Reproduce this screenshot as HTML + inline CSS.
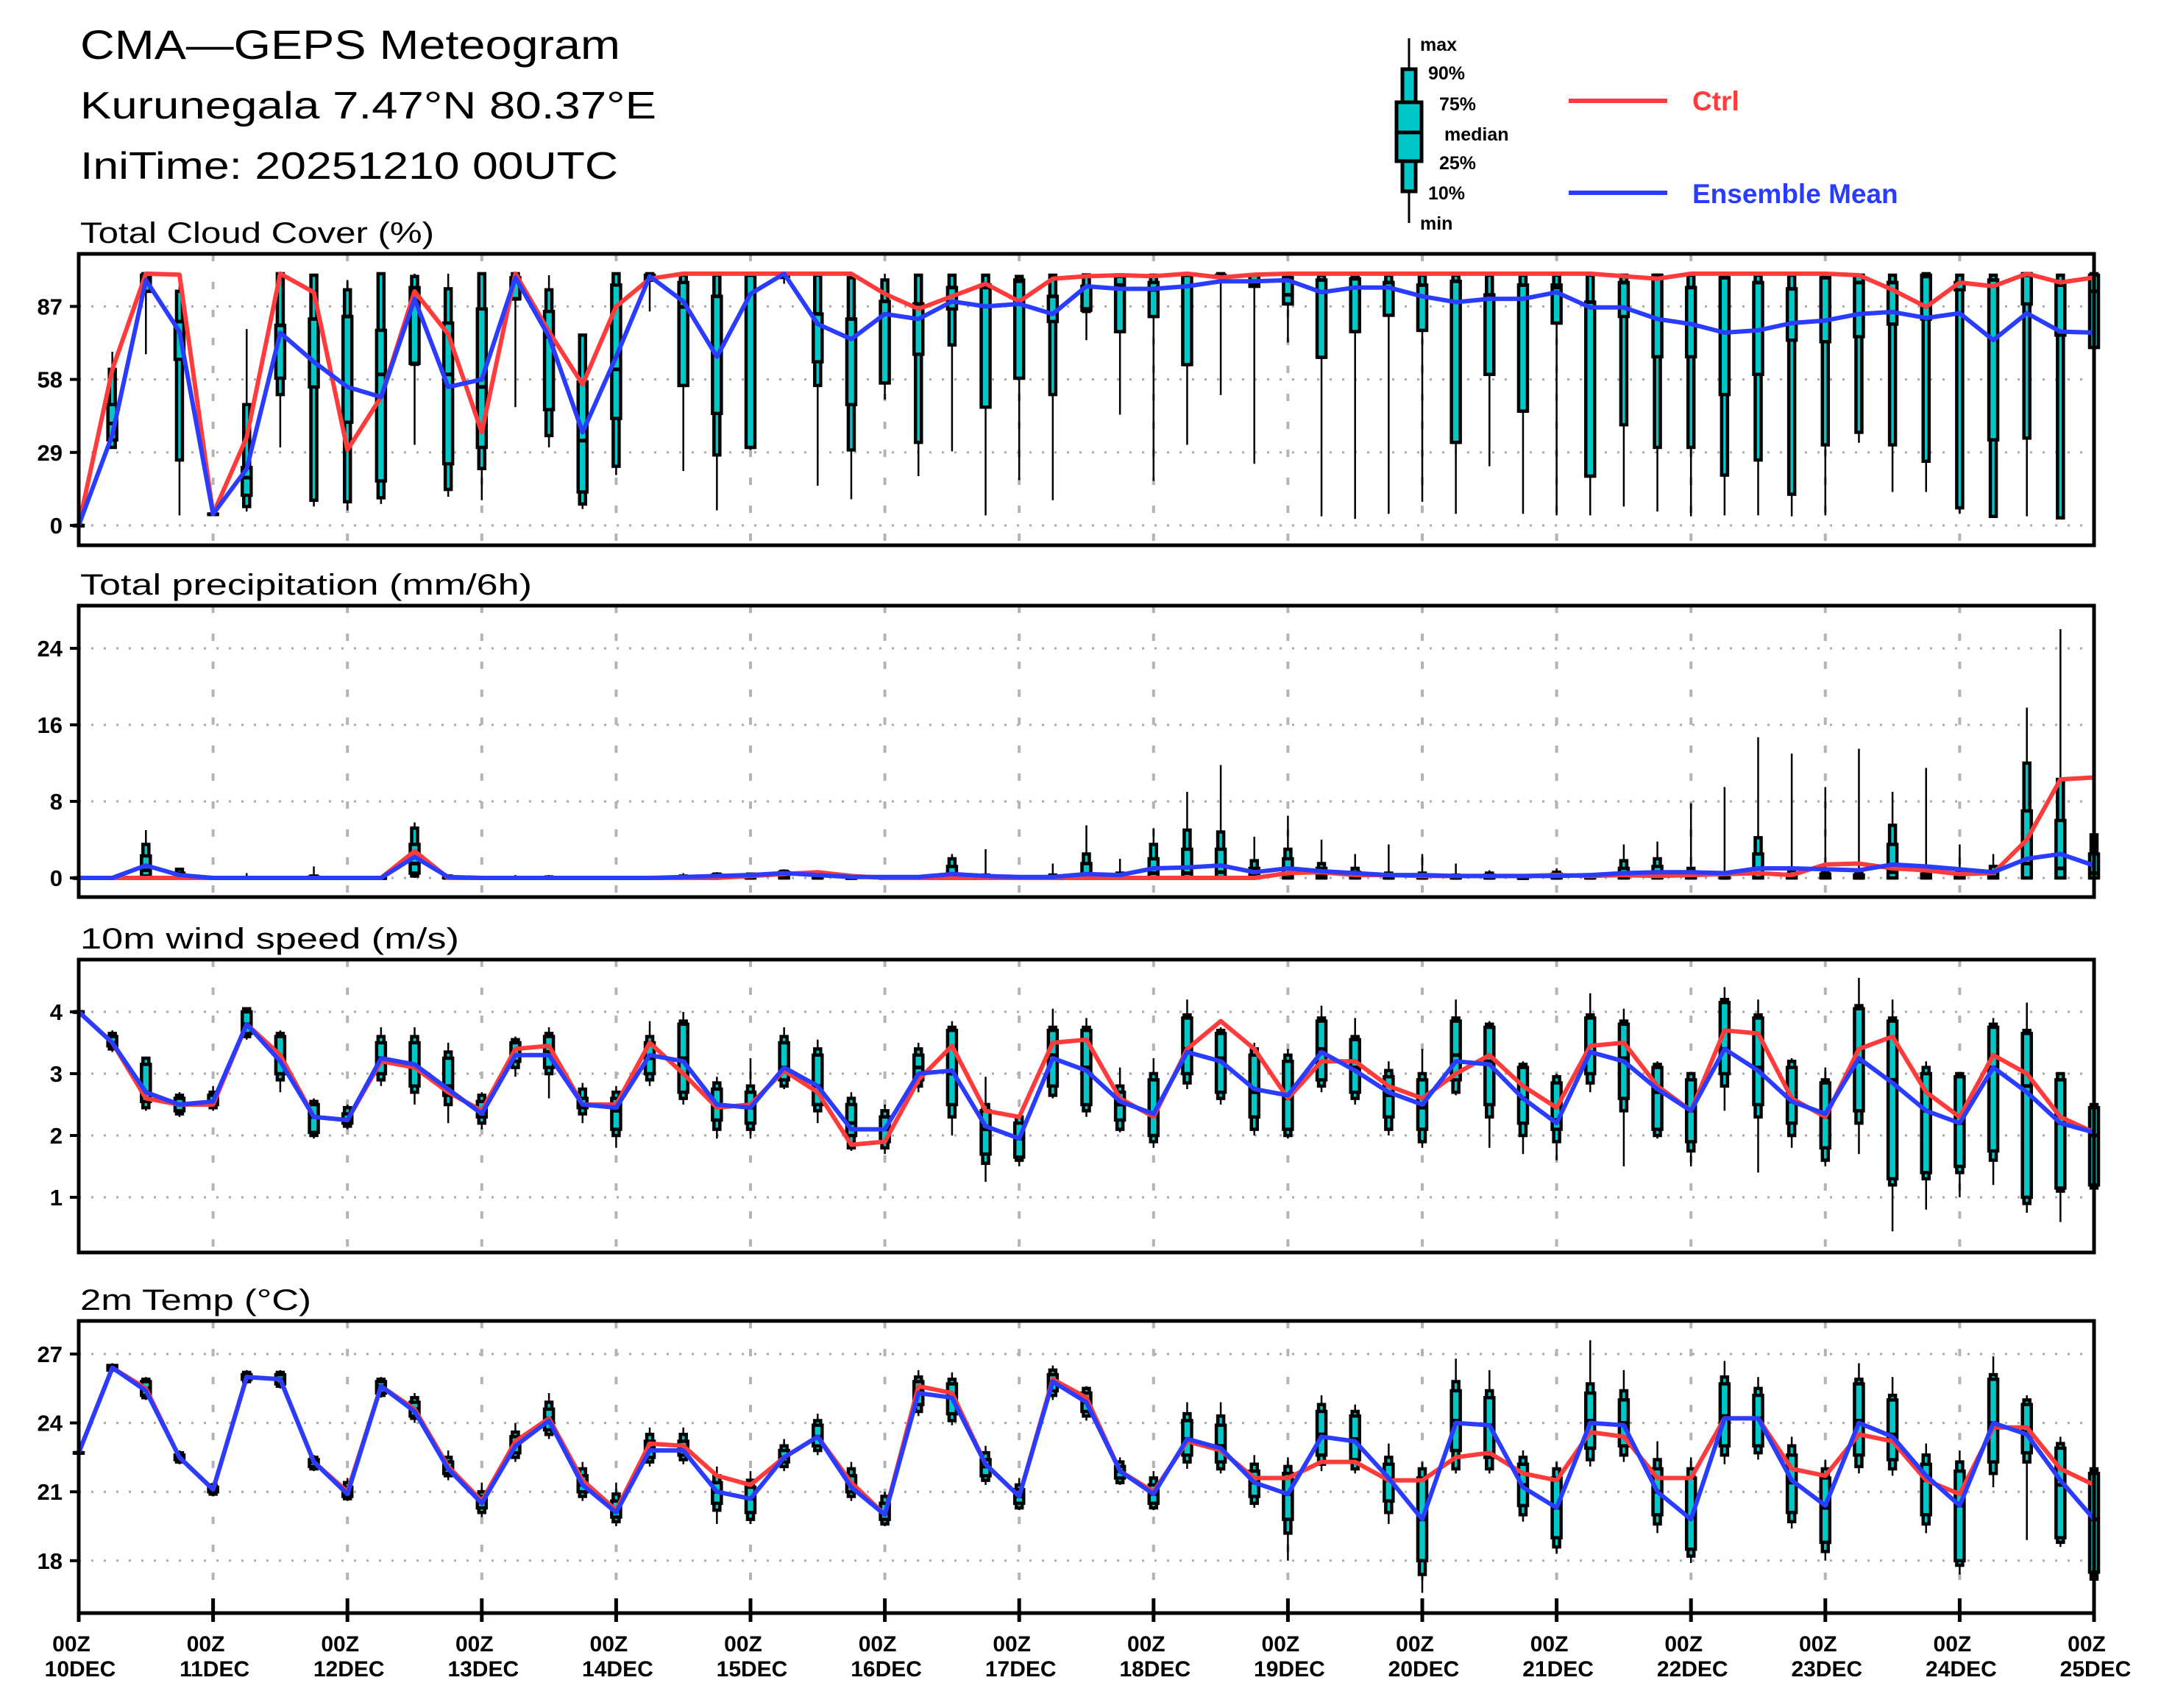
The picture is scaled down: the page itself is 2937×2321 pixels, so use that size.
<!DOCTYPE html>
<html><head><meta charset="utf-8"><style>
html,body{margin:0;padding:0;background:#fff;}
svg{display:block;}
text{font-family:"Liberation Sans",sans-serif;}
</style></head><body>
<svg id="chart" xmlns="http://www.w3.org/2000/svg" width="2937" height="2321" viewBox="0 0 2937 2321">
<rect x="0" y="0" width="2937" height="2321" fill="#fff"/>
<text x="109" y="80" font-size="56" textLength="734" lengthAdjust="spacingAndGlyphs">CMA—GEPS Meteogram</text>
<text x="109" y="161" font-size="52" textLength="783" lengthAdjust="spacingAndGlyphs">Kurunegala 7.47°N 80.37°E</text>
<text x="109" y="243" font-size="52" textLength="731" lengthAdjust="spacingAndGlyphs">IniTime: 20251210 00UTC</text>
<g id="legend">
<line x1="1915" y1="52" x2="1915" y2="303" stroke="#000" stroke-width="3"/>
<rect x="1906" y="94" width="18" height="166" fill="#00c8c8" stroke="#000" stroke-width="5"/>
<rect x="1898" y="139" width="34" height="80" fill="#00c8c8" stroke="#000" stroke-width="5"/>
<line x1="1898" y1="180" x2="1932" y2="180" stroke="#000" stroke-width="5"/>
<g font-size="25" font-weight="bold">
<text x="1930" y="69">max</text>
<text x="1941" y="108">90%</text>
<text x="1956" y="150">75%</text>
<text x="1963" y="191">median</text>
<text x="1956" y="230">25%</text>
<text x="1941" y="271">10%</text>
<text x="1930" y="312">min</text>
</g>
<line x1="2132" y1="137" x2="2266" y2="137" stroke="#ff3b3b" stroke-width="6"/>
<text x="2300" y="150" font-size="37" font-weight="bold" fill="#ff3b3b">Ctrl</text>
<line x1="2132" y1="262" x2="2266" y2="262" stroke="#2a3cff" stroke-width="6"/>
<text x="2300" y="276" font-size="37" font-weight="bold" fill="#2a3cff">Ensemble Mean</text>
</g>
</svg>
<script>
// ---------- data ----------
const dayLabels=["10DEC","11DEC","12DEC","13DEC","14DEC","15DEC","16DEC","17DEC","18DEC","19DEC","20DEC","21DEC","22DEC","23DEC","24DEC","25DEC"];
const cloudTicks=[0,29,58,87];
const precipTicks=[0,8,16,24];
const windTicks=[1,2,3,4];
const tempTicks=[18,21,24,27];

const cloudCtrl=[0,62,100,99.6,4.5,35,100,92.6,30,51,93,76,37,100,77,56,87,98,100,100,100,100,100,100,92,86,91,96,89,98,99,99.4,99,100,98.5,99.6,100,100,100,100,100,100,100,100,100,100,99,98,100,100,100,100,100,99.4,93.6,86.8,96.5,95,100,96.5,98.5];
const cloudMean=[0,36,97.5,77,4.5,22.5,76.5,65,55,51,90,55,58,98.5,75,37,67,99,89,67,92,100,80,74,84,82,89,87,88,84,95,94,94,95,97,97,97.4,92.6,94.5,94.5,91,88.7,90,90,92.6,86.6,86.6,82,80,76.6,77.5,80.4,81.4,84,84.8,82.4,84.3,73.6,84.3,77,76.6];
const cloudMax=[0,69,100,95.5,4.5,78,100,98,97.5,100,100,100,100,100,99.4,76,100,100,100,100,100,100,100,100,100,100,100,99.7,99.4,99.7,100,100,100,100,100,100,100,100,100,100,100,100,100,100,100,100,100,100,100,100,100,100,100,100,100,100,100,100,100,100,100];
const cloudP90=[0,62,100,93,4.5,48,100,99.4,93.6,100,98.9,94,100,100,93.6,75.6,100,100,99.5,99.5,100,100,99.4,98.4,97.5,99.4,99.4,99.4,98.9,99.4,99.5,99.5,99.4,100,100,99.5,99.4,99.4,99.4,99.4,99.4,99.4,99.4,99.4,99.4,99.4,99.4,99.4,99.4,99.4,99.4,99.4,99.4,99.4,99.4,100,99.4,99.4,100,99.4,100];
const cloudP75=[0,48,99.4,81,4.5,23,79.5,82,83,77.5,94.5,80.4,86,98.4,85,57,95.5,99.4,96.5,91,100,100,84,82,89,88,94.5,95.5,97.5,91,95,98.9,96.5,99.4,99.4,99.4,98.4,97.5,98,96.5,95.5,97,91.6,95.5,95.5,88.7,96.5,99.4,94.5,98.4,96.5,94,98.4,99.4,96.5,99.4,96.5,97.5,100,96,99.4];
const cloudMed=[0,40.5,98,81,4.5,19,79.5,82,83,60,93.6,60,55,90,75,33.7,62,97.5,86.8,91,99.4,100,84,82,89,88,94.5,94.5,97,91,86,95.5,93.6,99.4,99.4,95.5,91.6,97.5,98,96.5,95.5,97,91.6,95.5,94.5,88.7,96.5,98.4,94.5,98.4,96.5,94,98.4,96.5,96.5,98.9,96.5,97.5,99.4,95.5,93];
const cloudP25=[0,34,93,66,4.5,12,58.5,55,41,17.7,64.4,24.5,31,90,46,13.3,42.5,97.5,55.6,44.5,31,99,65,48,56.6,68,86,47,58.5,81,85.5,77,83,63.9,99,95,88,66.8,77,83.5,77.5,33,60,45.4,80.4,19.6,83,67,67,52,60,73.6,73,75,80,82,93.6,34,88,75.6,70.7];
const cloudP10=[0,31,93,26,4.5,7.5,52,10,9.4,11,64,14.3,22.6,90,35.7,8.5,23.5,97.5,55.6,28,31,98.5,55.6,30,56.6,33,71.7,47,58.5,52,85,77,83,63.9,99,95,88,66.8,77,83.5,77.5,33,60,45.4,80.4,19.6,40,31,31,20,26,12.4,32,37,32,25.5,7,3.6,34.7,3,70.7];
const cloudMin=[0,31,68,4,4.5,5.5,31,7.5,6,8.5,32,11.4,10,47,31,6.5,20,85,21.6,6,30,96,15.8,10.4,50,19.6,29.4,4,18,10,73.6,44,17.7,32,51.8,24.5,72.7,3.6,2.6,4.6,9.4,4.6,23.5,4.6,4,4,7.5,5.5,3.6,4,4,3.6,4,32.8,13.3,13.3,4.6,3.6,3.6,3,3.6];

const precipCtrl=[0,0,0,0,0,0,0,0,0,0,2.8,0,0,0,0,0,0,0,0,0,0.2,0.4,0.6,0.2,0,0,0,0,0,0,0,0,0,0,0,0,0.5,0.6,0.3,0.3,0.2,0.2,0.2,0.2,0.3,0.2,0.3,0.2,0.3,0.4,0.5,0.3,1.4,1.5,1.0,0.8,0.4,0.5,4.0,10.3,10.5];
const precipMean=[0,0,1.3,0.3,0,0,0,0,0,0,2.2,0.1,0,0,0,0,0,0,0.1,0.2,0.3,0.5,0.3,0.1,0.1,0.1,0.4,0.2,0.1,0.1,0.4,0.3,1.0,1.1,1.3,0.6,1.0,0.7,0.5,0.3,0.3,0.2,0.2,0.2,0.2,0.3,0.5,0.6,0.6,0.5,1.0,1.0,0.9,0.8,1.4,1.2,0.9,0.6,2.0,2.5,1.3];
const precipMax=[0,0,5.0,1.0,0,0.5,0,1.2,0,0,5.8,0.3,0,0.3,0.3,0.1,0,0.2,0.5,0.6,0.5,0.9,0.4,0.2,0.1,0.2,2.5,3.0,0.2,1.5,5.5,2.0,5.2,9.0,11.8,4.3,6.5,4.0,2.5,3.5,2.5,1.5,0.8,0.3,1.0,0.5,3.5,3.8,7.8,9.5,14.7,13.0,9.5,13.5,9.0,11.5,3.5,2.5,17.8,26.0,4.7];
const precipP90=[0,0,3.5,0.9,0,0,0,0.2,0,0,5.2,0.2,0,0,0.1,0,0,0,0.2,0.4,0.4,0.7,0.2,0,0,0,2.0,0.3,0,0.3,2.5,0.5,3.5,5.0,4.8,1.8,3.0,1.5,1.0,0.5,0.5,0.3,0.5,0,0.6,0.2,1.8,2.0,1.0,0.5,4.2,0.8,0.7,0.5,5.5,0.8,0.7,1.2,12.0,10.3,4.5];
const precipP75=[0,0,2.3,0.5,0,0,0,0.1,0,0,3.5,0.1,0,0,0,0,0,0,0,0.3,0.3,0.6,0.1,0,0,0,1.2,0.1,0,0,1.5,0.3,2.0,3.0,3.0,1.0,2.0,1.0,0.6,0.3,0.3,0.2,0.3,0,0.4,0.1,1.0,1.2,0.5,0.2,2.5,0.4,0.4,0.3,3.5,0.4,0.4,0.6,7.0,6.0,2.5];
const precipMed=[0,0,0.8,0.1,0,0,0,0,0,0,1.5,0,0,0,0,0,0,0,0,0,0,0.2,0,0,0,0,0.3,0,0,0,0.3,0,0.5,0.5,0.6,0.2,0.4,0.2,0.1,0,0,0,0,0,0,0,0.2,0.3,0.1,0,0.5,0.1,0.1,0,0.6,0.1,0.1,0.1,1.5,1.0,0.5];
const precipP25=[0,0,0.2,0,0,0,0,0,0,0,0.5,0,0,0,0,0,0,0,0,0,0,0,0,0,0,0,0,0,0,0,0,0,0,0,0,0,0,0,0,0,0,0,0,0,0,0,0,0,0,0,0,0,0,0,0,0,0,0,0,0,0];
const precipP10=[0,0,0,0,0,0,0,0,0,0,0.2,0,0,0,0,0,0,0,0,0,0,0,0,0,0,0,0,0,0,0,0,0,0,0,0,0,0,0,0,0,0,0,0,0,0,0,0,0,0,0,0,0,0,0,0,0,0,0,0,0,0];
const precipMin=[0,0,0,0,0,0,0,0,0,0,0,0,0,0,0,0,0,0,0,0,0,0,0,0,0,0,0,0,0,0,0,0,0,0,0,0,0,0,0,0,0,0,0,0,0,0,0,0,0,0,0,0,0,0,0,0,0,0,0,0,0];

const windCtrl=[4.0,3.5,2.6,2.5,2.5,3.8,3.3,2.3,2.25,3.2,3.1,2.7,2.4,3.4,3.45,2.5,2.5,3.5,3.0,2.45,2.5,3.05,2.7,1.85,1.9,2.9,3.45,2.4,2.3,3.5,3.55,2.6,2.3,3.4,3.85,3.4,2.6,3.2,3.2,2.8,2.6,3.0,3.3,2.8,2.45,3.45,3.5,2.8,2.4,3.7,3.65,2.6,2.3,3.4,3.6,2.7,2.3,3.3,3.0,2.3,2.05];
const windMean=[4.0,3.5,2.7,2.5,2.55,3.8,3.2,2.3,2.25,3.25,3.15,2.75,2.35,3.3,3.3,2.5,2.45,3.3,3.2,2.5,2.45,3.1,2.8,2.1,2.1,3.0,3.05,2.15,1.95,3.25,3.05,2.55,2.35,3.35,3.2,2.75,2.65,3.35,3.05,2.7,2.5,3.2,3.15,2.6,2.2,3.35,3.2,2.75,2.4,3.4,3.05,2.55,2.35,3.25,2.85,2.4,2.2,3.1,2.7,2.2,2.05];
const windMax=[4.0,3.7,3.25,2.7,2.8,4.05,3.7,2.6,2.5,3.75,3.75,3.5,2.7,3.6,3.75,2.85,2.8,3.85,4.0,2.95,3.25,3.75,3.55,2.7,2.5,3.5,3.85,2.95,2.35,4.05,3.9,3.1,3.25,4.2,3.75,3.5,3.4,4.1,3.9,3.2,3.4,4.2,3.85,3.2,3.0,4.3,4.05,3.2,3.0,4.4,4.2,3.25,3.1,4.55,4.2,3.2,3.0,3.9,4.15,3.0,2.5];
const windP90=[4.0,3.65,3.25,2.65,2.7,4.05,3.65,2.55,2.45,3.6,3.6,3.35,2.65,3.55,3.65,2.75,2.7,3.6,3.85,2.85,2.8,3.6,3.4,2.6,2.4,3.4,3.75,2.5,2.3,3.75,3.75,2.8,3.0,3.95,3.7,3.4,3.3,3.9,3.6,3.05,3.0,3.9,3.8,3.15,2.95,3.95,3.85,3.15,3.0,4.2,3.95,3.2,2.9,4.1,3.9,3.1,3.0,3.8,3.7,3.0,2.5];
const windP75=[4.0,3.6,3.15,2.6,2.65,4.0,3.6,2.5,2.35,3.5,3.5,3.25,2.55,3.5,3.6,2.6,2.6,3.5,3.8,2.75,2.7,3.5,3.3,2.5,2.3,3.3,3.7,2.4,2.2,3.7,3.7,2.7,2.9,3.9,3.65,3.3,3.2,3.85,3.55,2.95,2.9,3.85,3.75,3.1,2.85,3.9,3.8,3.1,2.9,4.15,3.9,3.1,2.85,4.05,3.85,3.0,2.95,3.75,3.65,2.9,2.45];
const windMed=[4.0,3.5,2.7,2.5,2.55,3.8,3.25,2.3,2.25,3.25,3.1,2.8,2.4,3.3,3.35,2.5,2.4,3.25,3.25,2.5,2.45,3.1,2.8,2.2,2.1,3.1,3.0,2.1,1.95,3.3,3.1,2.5,2.35,3.4,3.25,2.7,2.6,3.4,3.1,2.65,2.45,3.3,3.2,2.6,2.25,3.35,3.25,2.7,2.4,3.4,3.1,2.55,2.3,3.2,2.9,2.4,2.2,3.1,2.8,2.2,2.0];
const windP25=[4.0,3.45,2.55,2.4,2.5,3.65,3.0,2.05,2.2,3.0,2.8,2.65,2.3,3.2,3.1,2.45,2.1,3.0,2.7,2.25,2.2,2.9,2.5,2.0,1.9,2.9,2.5,1.7,1.65,2.8,2.5,2.25,2.0,3.0,2.7,2.3,2.1,2.9,2.7,2.3,2.1,2.9,2.5,2.2,2.1,3.0,2.6,2.1,1.9,3.0,2.5,2.2,1.8,2.4,1.3,1.4,1.5,1.75,1.0,1.15,1.2];
const windP10=[4.0,3.4,2.45,2.35,2.45,3.6,2.9,2.0,2.15,2.9,2.7,2.5,2.2,3.1,3.0,2.35,2.0,2.9,2.6,2.1,2.1,2.8,2.4,1.8,1.8,2.8,2.3,1.55,1.6,2.65,2.4,2.1,1.9,2.85,2.6,2.1,2.0,2.8,2.6,2.1,1.9,2.7,2.3,2.0,1.9,2.85,2.4,2.0,1.75,2.8,2.3,2.0,1.6,2.2,1.2,1.3,1.4,1.6,0.9,1.1,1.15];
const windMin=[4.0,3.35,2.4,2.3,2.4,3.55,2.7,1.95,2.1,2.8,2.5,2.2,2.1,2.95,2.6,2.2,1.8,2.8,2.5,1.95,1.95,2.75,2.2,1.75,1.7,2.7,2.0,1.25,1.5,2.6,2.3,2.05,1.8,2.75,2.5,2.0,1.95,2.7,2.5,2.0,1.8,2.65,1.8,1.7,1.6,2.7,1.5,1.95,1.5,2.4,1.4,1.8,1.5,1.7,0.45,0.8,1.0,1.2,0.75,0.6,1.15];

const tempCtrl=[22.7,26.4,25.5,22.5,21.1,26.0,25.9,22.3,21.0,25.6,24.6,22.1,20.6,23.2,24.2,21.5,20.2,23.1,23.0,21.7,21.3,22.5,23.4,21.4,20.0,25.6,25.3,22.2,20.8,25.9,25.1,21.9,21.0,23.2,22.8,21.6,21.6,22.3,22.3,21.5,21.5,22.5,22.7,21.8,21.5,23.6,23.4,21.6,21.6,24.2,24.2,22.0,21.7,23.5,23.2,21.5,20.9,23.8,23.8,22.0,21.3];
const tempMean=[22.7,26.4,25.4,22.5,21.1,26.0,25.9,22.3,20.9,25.6,24.5,22.0,20.5,23.0,24.1,21.3,20.1,22.8,22.8,21.0,20.7,22.5,23.4,21.2,20.0,25.3,25.1,22.2,20.8,25.8,24.9,21.9,20.9,23.3,22.9,21.4,20.9,23.4,23.2,21.6,19.8,24.0,23.9,21.2,20.3,24.0,23.9,21.0,19.8,24.2,24.2,21.5,20.4,24.0,23.4,21.7,20.4,24.0,23.5,21.5,19.8];
const tempMax=[22.7,26.6,26.0,22.8,21.4,26.3,26.3,22.6,21.6,26.0,25.3,22.8,21.4,24.0,25.3,22.3,21.4,23.8,23.8,22.1,21.9,23.3,24.4,22.3,21.0,26.3,26.2,23.0,21.6,26.5,25.6,22.5,21.9,24.9,24.9,22.6,22.5,25.2,24.8,23.1,22.3,26.8,26.3,22.8,22.3,27.6,26.3,23.2,22.5,26.7,26.0,23.4,22.4,26.6,26.0,23.1,22.8,26.9,25.2,23.4,22.2];
const tempP90=[22.7,26.5,25.9,22.7,21.3,26.2,26.2,22.5,21.4,25.9,25.1,22.5,21.0,23.6,24.9,22.0,20.9,23.5,23.5,21.7,21.5,23.0,24.1,22.0,20.8,26.0,25.9,22.7,21.3,26.3,25.5,22.3,21.6,24.4,24.3,22.2,22.1,24.8,24.5,22.5,22.0,25.8,25.4,22.5,22.0,25.7,25.4,22.4,22.0,26.0,25.5,23.0,22.0,25.9,25.2,22.6,22.3,26.1,25.0,23.1,22.0];
const tempP75=[22.7,26.5,25.8,22.6,21.2,26.1,26.1,22.4,21.2,25.8,24.9,22.3,20.8,23.4,24.6,21.7,20.6,23.2,23.2,21.4,21.2,22.8,23.9,21.7,20.5,25.8,25.7,22.4,21.1,26.1,25.3,22.1,21.3,24.1,23.9,21.9,21.8,24.5,24.3,22.2,21.6,25.4,25.1,22.2,21.6,25.3,25.0,22.0,21.6,25.7,25.2,22.6,21.6,25.7,25.0,22.2,21.9,25.9,24.8,22.9,21.8];
const tempMed=[22.7,26.4,25.5,22.5,21.1,26.0,25.9,22.3,21.0,25.6,24.6,22.0,20.6,23.1,24.2,21.3,20.2,22.9,22.9,21.0,20.7,22.5,23.4,21.3,20.1,25.4,25.1,22.1,20.8,25.8,24.9,21.9,20.9,23.3,23.0,21.4,20.9,23.5,23.3,21.5,19.8,24.1,23.9,21.3,20.3,24.1,24.0,21.0,19.9,24.3,24.2,21.4,20.3,24.1,23.5,21.5,20.4,24.0,23.6,21.3,19.8];
const tempP25=[22.7,26.3,25.2,22.4,21.0,25.9,25.7,22.1,20.8,25.3,24.3,21.8,20.3,22.7,23.7,21.0,19.9,22.5,22.6,20.5,20.1,22.3,23.0,21.0,19.8,24.8,24.4,21.7,20.5,25.4,24.5,21.6,20.5,22.6,22.3,20.8,19.8,22.6,22.4,20.6,18.0,22.8,22.5,20.4,19.0,22.9,23.0,20.0,18.5,23.0,23.0,20.1,18.8,22.6,22.4,20.0,18.0,22.3,22.7,19.0,17.5];
const tempP10=[22.7,26.3,25.1,22.3,20.9,25.8,25.6,22.0,20.7,25.2,24.2,21.7,20.1,22.5,23.5,20.8,19.7,22.3,22.4,20.2,19.8,22.1,22.8,20.8,19.6,24.5,24.1,21.5,20.3,25.2,24.3,21.4,20.3,22.3,22.0,20.5,19.2,22.2,22.0,20.1,17.4,22.0,22.0,20.0,18.6,22.4,22.6,19.6,18.2,22.6,22.7,19.7,18.4,22.1,22.0,19.6,17.8,21.8,22.3,18.8,17.2];
const tempMin=[22.7,26.2,25.0,22.2,20.8,25.7,25.5,21.9,20.6,25.1,24.0,21.5,19.9,22.3,23.3,20.6,19.5,22.1,22.2,19.6,19.6,21.9,22.6,20.6,19.5,24.3,23.9,21.3,20.2,25.0,24.1,21.3,20.2,22.0,21.8,20.3,18.0,21.9,21.8,19.6,16.6,21.8,21.8,19.7,18.3,22.1,22.3,19.2,17.9,22.2,22.4,19.4,18.0,21.8,21.7,19.2,17.4,21.2,18.9,18.6,17.0];

// ---------- layout ----------
const NS="http://www.w3.org/2000/svg";
const svg=document.getElementById('chart');
const X0=107, X1=2846, NSTEP=60;
function xAt(i){return X0+(X1-X0)*i/NSTEP;}
function mk(tag,attrs,parent){const e=document.createElementNS(NS,tag);for(const k in attrs)e.setAttribute(k,attrs[k]);(parent||svg).appendChild(e);return e;}

const panels=[
 {key:'cloud',title:'Total Cloud Cover (%)',tw:481,top:345,bot:741,v0:0,y0:714,ppu:99.2/29,ticks:cloudTicks,ctrl:cloudCtrl,mean:cloudMean,mn:cloudMin,p10:cloudP10,p25:cloudP25,med:cloudMed,p75:cloudP75,p90:cloudP90,mx:cloudMax},
 {key:'precip',title:'Total precipitation (mm/6h)',tw:614,top:823,bot:1219,v0:0,y0:1193,ppu:13.0,ticks:precipTicks,ctrl:precipCtrl,mean:precipMean,mn:precipMin,p10:precipP10,p25:precipP25,med:precipMed,p75:precipP75,p90:precipP90,mx:precipMax},
 {key:'wind',title:'10m wind speed (m/s)',tw:515,top:1304,bot:1702,v0:4,y0:1375,ppu:84,ticks:windTicks,ctrl:windCtrl,mean:windMean,mn:windMin,p10:windP10,p25:windP25,med:windMed,p75:windP75,p90:windP90,mx:windMax},
 {key:'temp',title:'2m Temp (°C)',tw:314,top:1795,bot:2192,v0:27,y0:1840,ppu:31.2,ticks:tempTicks,ctrl:tempCtrl,mean:tempMean,mn:tempMin,p10:tempP10,p25:tempP25,med:tempMed,p75:tempP75,p90:tempP90,mx:tempMax}
];

panels.forEach(function(p){
  const yAt=function(v){return p.y0-(v-p.v0)*p.ppu;};
  const g=mk('g',{});
  
  
  const t=mk('text',{x:109,y:p.top-15,'font-size':40,textLength:p.tw,lengthAdjust:'spacingAndGlyphs'},g);
  t.textContent=p.title;
  
  
  p.ticks.forEach(function(v){
    const y=yAt(v);
    const gl=mk('line',{x1:X0,x2:X1,y1:y,y2:y,stroke:'#aaa','stroke-width':3,'stroke-dasharray':'3 14'},g);
    
    
    const tk=mk('line',{x1:X0-12,x2:X0,y1:y,y2:y,stroke:'#000','stroke-width':4},g);
    
    
    const lb=mk('text',{x:X0-22,y:y+11,'font-size':31,'font-weight':'bold','text-anchor':'end'},g);
    lb.textContent=String(v);
    
    
  });
  for(let d=1;d<dayLabels.length-1;d++){
    const x=xAt(d*4);
    const vl=mk('line',{x1:x,x2:x,y1:p.top,y2:p.bot,stroke:'#b4b4b4','stroke-width':4,'stroke-dasharray':'10 28'},g);
    
    
  }
  for(let i=0;i<p.ctrl.length;i++){
    const x=xAt(i);
    const bg=mk('g',{},g);
    
    
    mk('line',{x1:x,x2:x,y1:yAt(p.mx[i]),y2:yAt(p.mn[i]),stroke:'#000','stroke-width':2.5},bg);
    const a=yAt(p.p90[i]),b=yAt(p.p10[i]);
    mk('rect',{x:x-4,y:a,width:8,height:Math.max(b-a,0.5),fill:'#00c8c8',stroke:'#000','stroke-width':4.5},bg);
    const c=yAt(p.p75[i]),d=yAt(p.p25[i]);
    mk('rect',{x:x-6,y:c,width:12,height:Math.max(d-c,0.5),fill:'#00c8c8',stroke:'#000','stroke-width':4.5},bg);
    mk('line',{x1:x-6,x2:x+6,y1:yAt(p.med[i]),y2:yAt(p.med[i]),stroke:'#000','stroke-width':5},bg);
  }
  const ptsC=p.ctrl.map(function(v,i){return xAt(i).toFixed(1)+','+yAt(v).toFixed(1);}).join(' ');
  const lc=mk('polyline',{points:ptsC,fill:'none',stroke:'#ff3b3b','stroke-width':6,'stroke-linejoin':'round'},g);
  
  
  const ptsM=p.mean.map(function(v,i){return xAt(i).toFixed(1)+','+yAt(v).toFixed(1);}).join(' ');
  const lm=mk('polyline',{points:ptsM,fill:'none',stroke:'#2a3cff','stroke-width':6,'stroke-linejoin':'round'},g);
  
  
  const fr=mk('rect',{x:X0,y:p.top,width:X1-X0,height:p.bot-p.top,fill:'none',stroke:'#000','stroke-width':5},g);
  
  
});

const last=panels[3];
dayLabels.forEach(function(lab,d){
  const x=xAt(d*4);
  const tk=mk('line',{x1:x,x2:x,y1:last.bot-20,y2:last.bot+12,stroke:'#000','stroke-width':5});
  
  
  const t1=mk('text',{x:x-10,y:2244,'font-size':30,'font-weight':'bold','text-anchor':'middle'});
  t1.textContent='00Z';
  
  
  const t2=mk('text',{x:x+2,y:2278,'font-size':30,'font-weight':'bold','text-anchor':'middle'});
  t2.textContent=lab;
  
  
});
</script>
</body></html>
